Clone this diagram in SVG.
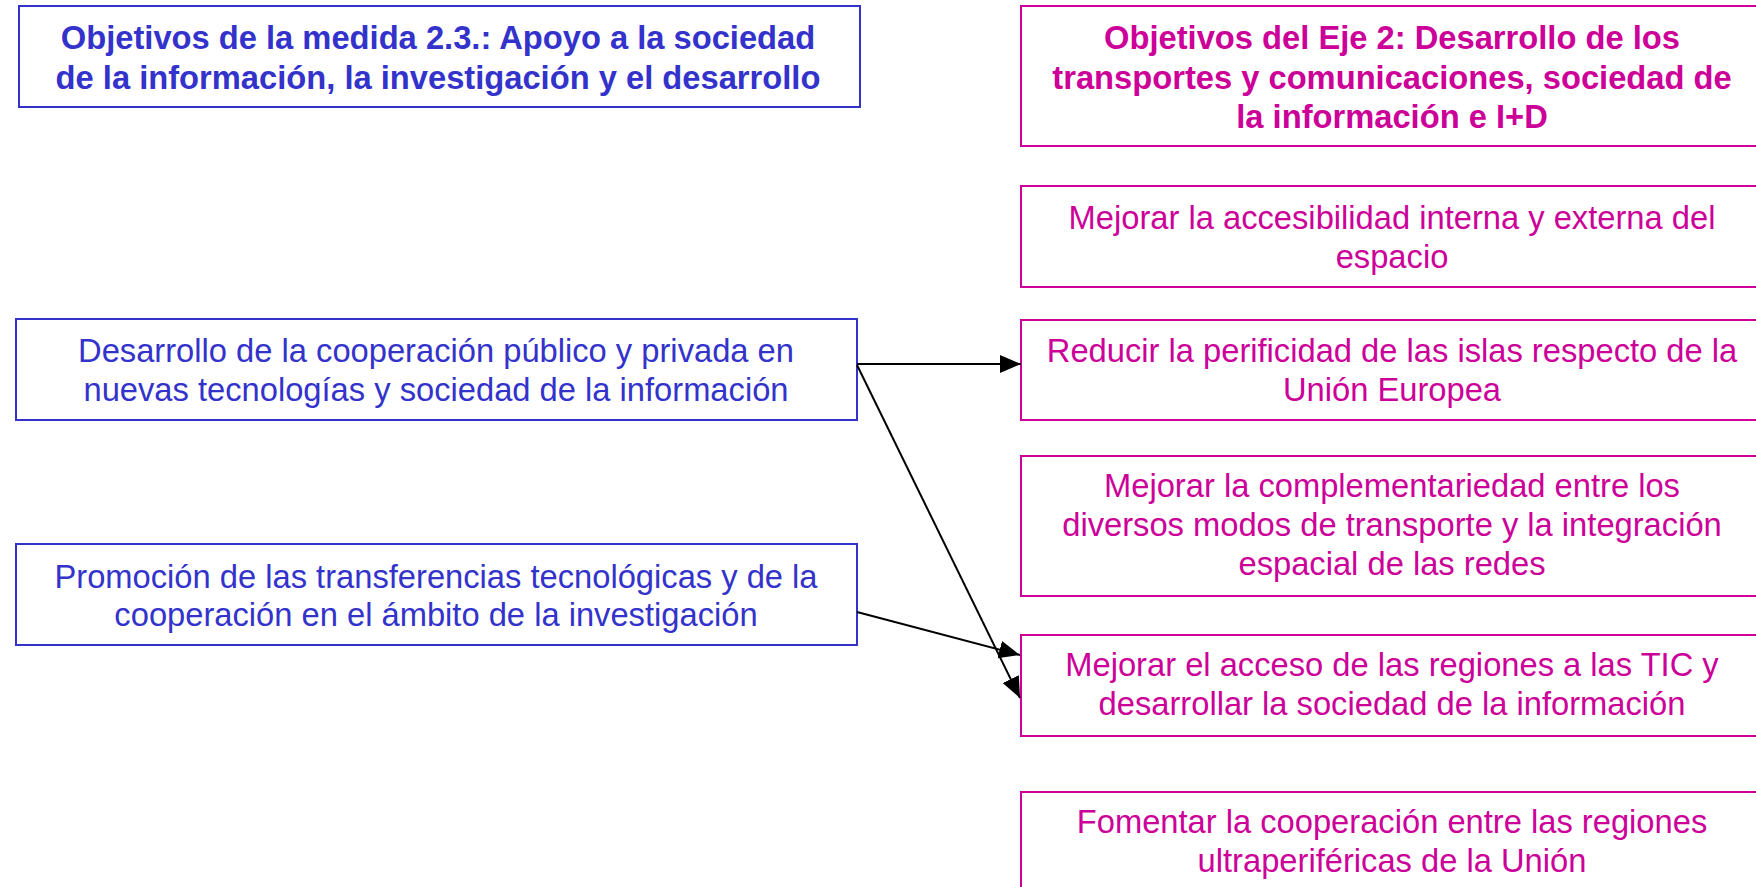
<svg xmlns="http://www.w3.org/2000/svg" width="1756" height="887" viewBox="0 0 1756 887">
<style>
.bb{fill:#fff;stroke:#3333CC;stroke-width:2}
.mb{fill:#fff;stroke:#CC0099;stroke-width:2}
.bt{fill:#3333CC;font-family:"Liberation Sans",Arial,sans-serif;font-size:32.7px;text-anchor:middle}
.mt{fill:#CC0099;font-family:"Liberation Sans",Arial,sans-serif;font-size:32.7px;text-anchor:middle}
.b{font-weight:bold}
.c{stroke:#000;stroke-width:2;fill:none;marker-end:url(#ah)}
</style>
<defs>
<marker id="ah" markerUnits="userSpaceOnUse" markerWidth="24" markerHeight="20" refX="21" refY="9" orient="auto">
<path d="M0,0 L21,9 L0,18 Z" fill="#000"/>
</marker>
</defs>
<rect width="1756" height="887" fill="#fff"/>
<g id="medida">
<rect class="bb" x="19" y="6" width="841" height="101"/>
<text class="bt b" x="438" y="49">Objetivos de la medida 2.3.: Apoyo a la sociedad</text>
<text class="bt b" x="438" y="89">de la información, la investigación y el desarrollo</text>
</g>
<g id="eje2">
<rect class="mb" x="1021" y="6" width="745" height="140"/>
<text class="mt b" x="1392" y="49">Objetivos del Eje 2: Desarrollo de los</text>
<text class="mt b" x="1392" y="89">transportes y comunicaciones, sociedad de</text>
<text class="mt b" x="1392" y="128">la información e I+D</text>
</g>
<g id="accesibilidad">
<rect class="mb" x="1021" y="186" width="745" height="101"/>
<text class="mt" x="1392" y="229">Mejorar la accesibilidad interna y externa del</text>
<text class="mt" x="1392" y="268">espacio</text>
</g>
<g id="perificidad">
<rect class="mb" x="1021" y="320" width="745" height="100"/>
<text class="mt" x="1392" y="362">Reducir la perificidad de las islas respecto de la</text>
<text class="mt" x="1392" y="401">Unión Europea</text>
</g>
<g id="complementariedad">
<rect class="mb" x="1021" y="456" width="745" height="140"/>
<text class="mt" x="1392" y="497">Mejorar la complementariedad entre los</text>
<text class="mt" x="1392" y="536">diversos modos de transporte y la integración</text>
<text class="mt" x="1392" y="575">espacial de las redes</text>
</g>
<g id="tic">
<rect class="mb" x="1021" y="635" width="745" height="101"/>
<text class="mt" x="1392" y="676">Mejorar el acceso de las regiones a las TIC y</text>
<text class="mt" x="1392" y="715">desarrollar la sociedad de la información</text>
</g>
<g id="ultraperifericas">
<rect class="mb" x="1021" y="792" width="745" height="120"/>
<text class="mt" x="1392" y="833">Fomentar la cooperación entre las regiones</text>
<text class="mt" x="1392" y="872">ultraperiféricas de la Unión</text>
</g>
<g id="cooperacion">
<rect class="bb" x="16" y="319" width="841" height="101"/>
<text class="bt" x="436" y="362">Desarrollo de la cooperación público y privada en</text>
<text class="bt" x="436" y="401">nuevas tecnologías y sociedad de la información</text>
</g>
<g id="transferencias">
<rect class="bb" x="16" y="544" width="841" height="101"/>
<text class="bt" x="436" y="588">Promoción de las transferencias tecnológicas y de la</text>
<text class="bt" x="436" y="626">cooperación en el ámbito de la investigación</text>
</g>
<g id="connectors">
<line class="c" x1="857" y1="364" x2="1021" y2="364"/>
<line class="c" x1="857" y1="365" x2="1020" y2="698"/>
<line class="c" x1="857" y1="612" x2="1020" y2="655"/>
</g>
</svg>
